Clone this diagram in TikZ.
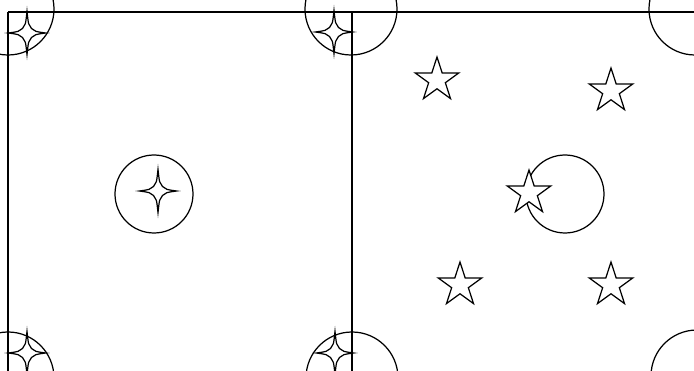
\documentclass[tikz,border=0pt]{standalone}
\usepackage{tikz}
\usetikzlibrary{shapes.geometric}

\begin{document}
\begin{tikzpicture}[
  x=0.02cm, y=-0.02cm,
  line width=0.7pt,
  fivestar/.style={draw, fill=white, star, star points=5, star point ratio=2.618,
                   minimum size=0.92cm, inner sep=0pt},
]

%% ── Frame: picture is 694 x 371 units ────────────────────────────────────────
\useasboundingbox (0,0) rectangle (694,371);
\clip (0,0) rectangle (694,371);

\def\rc{46}     % corner circle radius
\def\rm{39}     % middle circle radius
\def\sw{18.5}   % sparkle half width
\def\sh{21.5}   % sparkle half height

%% ── Cell edges ───────────────────────────────────────────────────────────────
\draw (8,12) -- (694,12);
\draw (8,12) -- (8,371);
\draw (352,12) -- (352,371);

%% ── Circles at the corners ───────────────────────────────────────────────────
\foreach \cx/\cy in {8/9, 351/9, 695/9, 8/378, 352/378, 697/376}{
  \draw (\cx,\cy) circle (\rc);
}

% middle circles
\draw (154,194) circle (\rm);
\draw (565,194) circle (\rm);

%% ── Left cell: four-point sparkles ───────────────────────────────────────────
\foreach \cx/\cy in {27/33, 334/32, 158/191, 27/353, 335/353}{
  \begin{scope}[shift={(\cx,\cy)}]
    \draw (0,-\sh) .. controls (1.5,-8) .. (4.5,-4.5) .. controls (8,-1.5) .. (\sw,0)
                   .. controls (8,1.5) .. (4.5,4.5) .. controls (1.5,8) .. (0,\sh)
                   .. controls (-1.5,8) .. (-4.5,4.5) .. controls (-8,1.5) .. (-\sw,0)
                   .. controls (-8,-1.5) .. (-4.5,-4.5) .. controls (-1.5,-8) .. cycle;
  \end{scope}
}

%% ── Right cell: five-point stars ─────────────────────────────────────────────
\foreach \cx/\cy [count=\i] in {437/80, 611/91, 529/193, 460/285, 611/285}{
  \node[fivestar] (star\i) at (\cx,\cy) {};
}

\end{tikzpicture}
\end{document}
